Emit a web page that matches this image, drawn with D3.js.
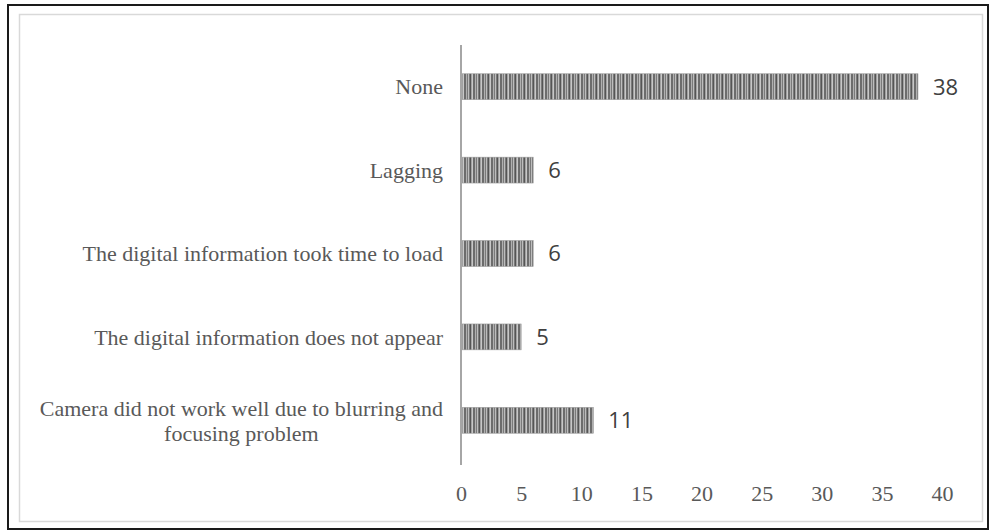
<!DOCTYPE html>
<html>
<head>
<meta charset="utf-8">
<script src="https://cdn.jsdelivr.net/npm/d3@7"></script>
<style>
  html, body { margin: 0; padding: 0; background: #fff; }
  svg { display: block; }
</style>
</head>
<body>
<svg id="chart" width="990" height="532"></svg>
<script>
// Reported problems and number of respondents
const categories = [
  "None",
  "Lagging",
  "The digital information took time to load",
  "The digital information does not appear",
  "Camera did not work well due to blurring and focusing problem"
];
const counts = [38, 6, 6, 5, 11];
const ticks = [0, 5, 10, 15, 20, 25, 30, 35, 40];

// Category labels split onto lines where they wrap
const labelLines = [
  ["None"],
  ["Lagging"],
  ["The digital information took time to load"],
  ["The digital information does not appear"],
  ["Camera did not work well due to blurring and", "focusing problem"]
];

const svg = d3.select("#chart");
const W = 990, H = 532;
const serif = "'Liberation Serif', 'Times New Roman', serif";

// Outer frame and inner chart-area border
svg.append("rect").attr("x", 8).attr("y", 5).attr("width", W - 10).attr("height", H - 8)
  .attr("fill", "#fff").attr("stroke", "#1a1a1a").attr("stroke-width", 2);
svg.append("rect").attr("x", 19.5).attr("y", 14.5).attr("width", 963).attr("height", 507)
  .attr("fill", "#fff").attr("stroke", "#d9d9d9").attr("stroke-width", 1.5);

// Striped fill for the bars
const defs = svg.append("defs");
const pat = defs.append("pattern").attr("id", "stripes")
  .attr("patternUnits", "userSpaceOnUse").attr("width", 9).attr("height", 10);
pat.append("rect").attr("width", 9).attr("height", 10).attr("fill", "#7a7a7a");
const stripes = [[0, 1, "#bdbdbd"], [2, 1, "#555"], [3.5, 1.5, "#c8c8c8"], [5.5, 1, "#5e5e5e"], [7, 1, "#b0b0b0"]];
stripes.forEach(([x, w, c]) => pat.append("rect").attr("x", x).attr("width", w).attr("height", 10).attr("fill", c));

const x = d3.scaleLinear().domain([0, 40]).range([461, 942]);
const y = d3.scaleBand().domain(categories).range([45, 462]).paddingInner(0.69).paddingOuter(0.345);

// Bars
svg.append("g").selectAll("rect").data(categories).join("rect")
  .attr("x", x(0))
  .attr("y", d => y(d))
  .attr("width", (d, i) => x(counts[i]) - x(0))
  .attr("height", y.bandwidth())
  .attr("fill", "url(#stripes)")
  .attr("stroke", "#999").attr("stroke-width", 0.6);

// Vertical category axis line
svg.append("line").attr("x1", 461).attr("x2", 461).attr("y1", 45).attr("y2", 465)
  .attr("stroke", "#a6a6a6").attr("stroke-width", 2);

// Value axis tick labels
const xAxis = d3.axisBottom(x).tickValues(ticks).tickSize(0).tickPadding(0);
const gx = svg.append("g").attr("transform", "translate(0,493)").call(xAxis);
gx.select(".domain").remove();
gx.selectAll("text")
  .attr("font-family", serif)
  .attr("font-size", 22).attr("fill", "#595959").attr("dy", "0.35em").attr("y", 0);

// Category labels
const lblX = 443;
const lbl = svg.append("g").attr("font-family", serif)
  .attr("font-size", 22).attr("fill", "#595959");
categories.forEach((c, i) => {
  const lines = labelLines[i];
  const cy = y(c) + y.bandwidth() / 2;
  const lh = 25;
  const t = lbl.append("text").attr("text-anchor", "end");
  lines.forEach((ln, j) => {
    t.append("tspan").attr("x", lblX).attr("y", cy + (j - (lines.length - 1) / 2) * lh)
      .attr("dy", "0.35em").text(ln);
  });
  if (lines.length > 1) {
    // centre the wrapped lines under the first one
    const w0 = t.select("tspan").node().getComputedTextLength();
    t.selectAll("tspan").each(function (d, j) {
      if (j > 0) d3.select(this).attr("text-anchor", "middle").attr("x", lblX - w0 / 2);
    });
  }
});

// Value labels
svg.append("g").selectAll("text").data(categories).join("text")
  .attr("x", (d, i) => x(counts[i]) + 15)
  .attr("y", d => y(d) + y.bandwidth() / 2)
  .attr("dy", "0.36em")
  .attr("font-family", "'Open Sans', 'Liberation Sans', sans-serif")
  .attr("font-size", 22).attr("fill", "#404040")
  .text((d, i) => counts[i]);
</script>
</body>
</html>
